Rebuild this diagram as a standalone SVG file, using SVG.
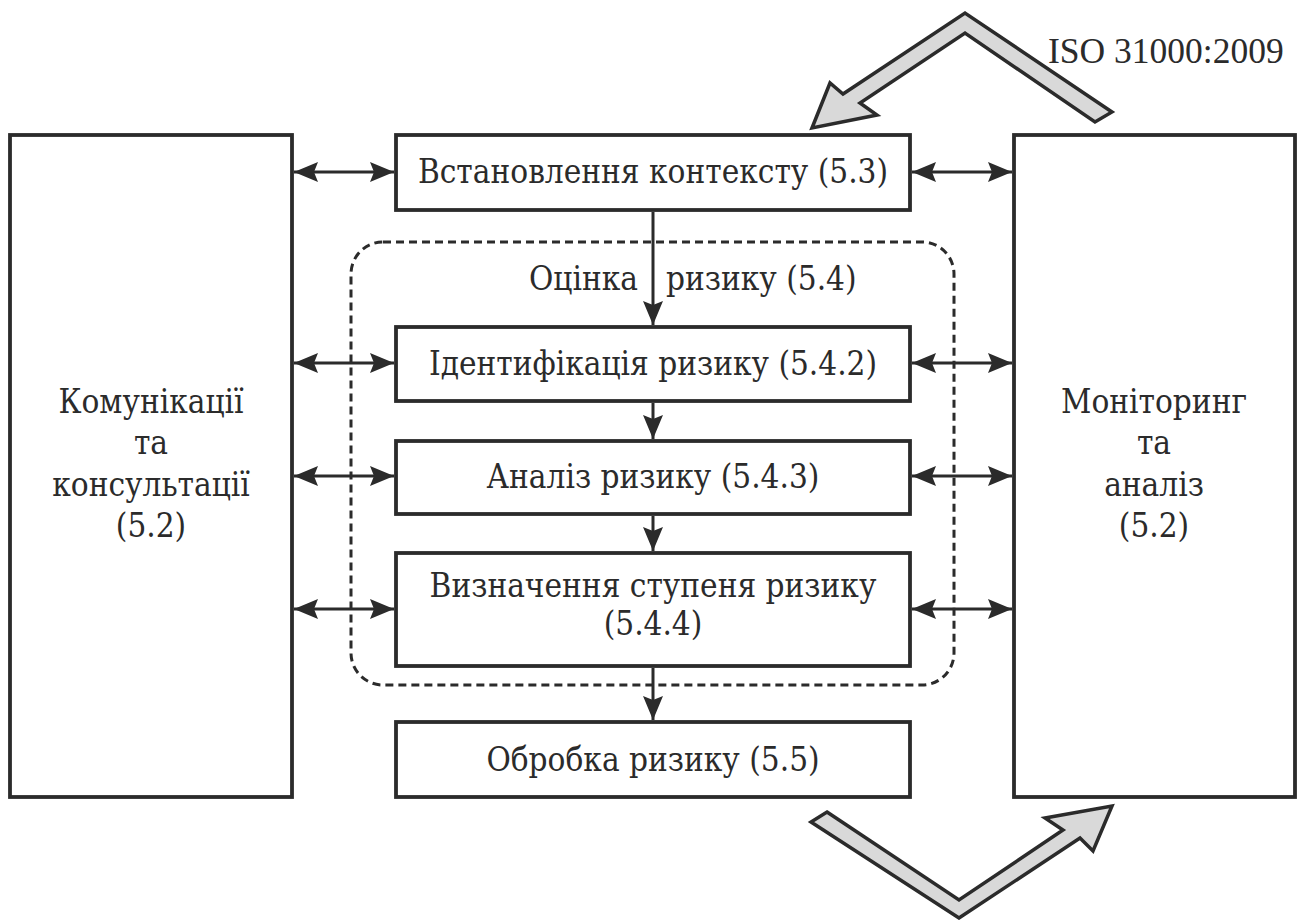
<svg xmlns="http://www.w3.org/2000/svg" width="1307" height="920" viewBox="0 0 1307 920">
<style>
.box{fill:#fff;stroke:#2b2b2b;stroke-width:3.8}
.t{font-family:"DejaVu Serif","Liberation Serif",serif;font-stretch:condensed;font-size:33px;fill:#2b2b2b;text-anchor:middle}
.iso{font-family:"Liberation Serif","Times New Roman",serif;font-size:35.5px;fill:#2b2b2b}
.ln{stroke:#2b2b2b;stroke-width:3;fill:none}
.big{fill:#d9d9d9;stroke:#2b2b2b;stroke-width:3.5;stroke-linejoin:miter}
.dash{fill:none;stroke:#2b2b2b;stroke-width:3;stroke-dasharray:8 5}
</style>
<defs>
<marker id="ah" viewBox="0 0 24 20" markerWidth="24" markerHeight="20" refX="24" refY="10" orient="auto-start-reverse" markerUnits="userSpaceOnUse">
<path d="M0,0 L24,10 L0,20 L4,10 z" fill="#2b2b2b"/>
</marker>
</defs>
<rect width="1307" height="920" fill="#fff"/>

<g id="iso-arrow-top">
<polygon class="big" points="1112,112 965,13 843,94 830,83 812,128 877,115 860,103 965,33 1095,122"/>
</g>
<g id="iso-arrow-bottom">
<polygon class="big" points="827,812 959,900 1063,830 1045,818 1112,806 1093,851 1080,838 959,918 811,822"/>
</g>
<text class="iso" x="1048" y="63">ISO 31000:2009</text>

<g id="risk-assessment">
<rect class="dash" x="351" y="242" width="603" height="443" rx="32"/>
<text class="t" x="638" y="290" style="text-anchor:end">Оцінка</text>
<text class="t" x="666" y="290" style="text-anchor:start">ризику (5.4)</text>
</g>

<g id="communication">
<rect class="box" x="10" y="135" width="282" height="662"/>
<text class="t" x="151" y="413">Комунікації</text>
<text class="t" x="151" y="454">та</text>
<text class="t" x="151" y="496">консультації</text>
<text class="t" x="151" y="537">(5.2)</text>
</g>

<g id="monitoring">
<rect class="box" x="1014" y="135" width="281" height="662"/>
<text class="t" x="1154" y="413">Моніторинг</text>
<text class="t" x="1154" y="454">та</text>
<text class="t" x="1154" y="496">аналіз</text>
<text class="t" x="1154" y="537">(5.2)</text>
</g>

<g id="context">
<rect class="box" x="396" y="135" width="514" height="75"/>
<text class="t" x="653" y="183">Встановлення контексту (5.3)</text>
</g>
<g id="identification">
<rect class="box" x="396" y="327" width="514" height="74"/>
<text class="t" x="653" y="375">Ідентифікація ризику (5.4.2)</text>
</g>
<g id="analysis">
<rect class="box" x="396" y="441" width="514" height="73"/>
<text class="t" x="653" y="488">Аналіз ризику (5.4.3)</text>
</g>
<g id="evaluation">
<rect class="box" x="396" y="553" width="514" height="113"/>
<text class="t" x="653" y="597">Визначення ступеня ризику</text>
<text class="t" x="653" y="635">(5.4.4)</text>
</g>
<g id="treatment">
<rect class="box" x="396" y="722" width="514" height="75"/>
<text class="t" x="653" y="771">Обробка ризику (5.5)</text>
</g>

<g id="connectors">
<line class="ln" x1="294" y1="172" x2="394" y2="172" marker-start="url(#ah)" marker-end="url(#ah)"/>
<line class="ln" x1="294" y1="363" x2="394" y2="363" marker-start="url(#ah)" marker-end="url(#ah)"/>
<line class="ln" x1="294" y1="476" x2="394" y2="476" marker-start="url(#ah)" marker-end="url(#ah)"/>
<line class="ln" x1="294" y1="609" x2="394" y2="609" marker-start="url(#ah)" marker-end="url(#ah)"/>
<line class="ln" x1="912" y1="172" x2="1012" y2="172" marker-start="url(#ah)" marker-end="url(#ah)"/>
<line class="ln" x1="912" y1="363" x2="1012" y2="363" marker-start="url(#ah)" marker-end="url(#ah)"/>
<line class="ln" x1="912" y1="476" x2="1012" y2="476" marker-start="url(#ah)" marker-end="url(#ah)"/>
<line class="ln" x1="912" y1="609" x2="1012" y2="609" marker-start="url(#ah)" marker-end="url(#ah)"/>
<line class="ln" x1="653" y1="212" x2="653" y2="325" marker-end="url(#ah)"/>
<line class="ln" x1="653" y1="403" x2="653" y2="439" marker-end="url(#ah)"/>
<line class="ln" x1="653" y1="516" x2="653" y2="551" marker-end="url(#ah)"/>
<line class="ln" x1="653" y1="668" x2="653" y2="720" marker-end="url(#ah)"/>
</g>
</svg>
